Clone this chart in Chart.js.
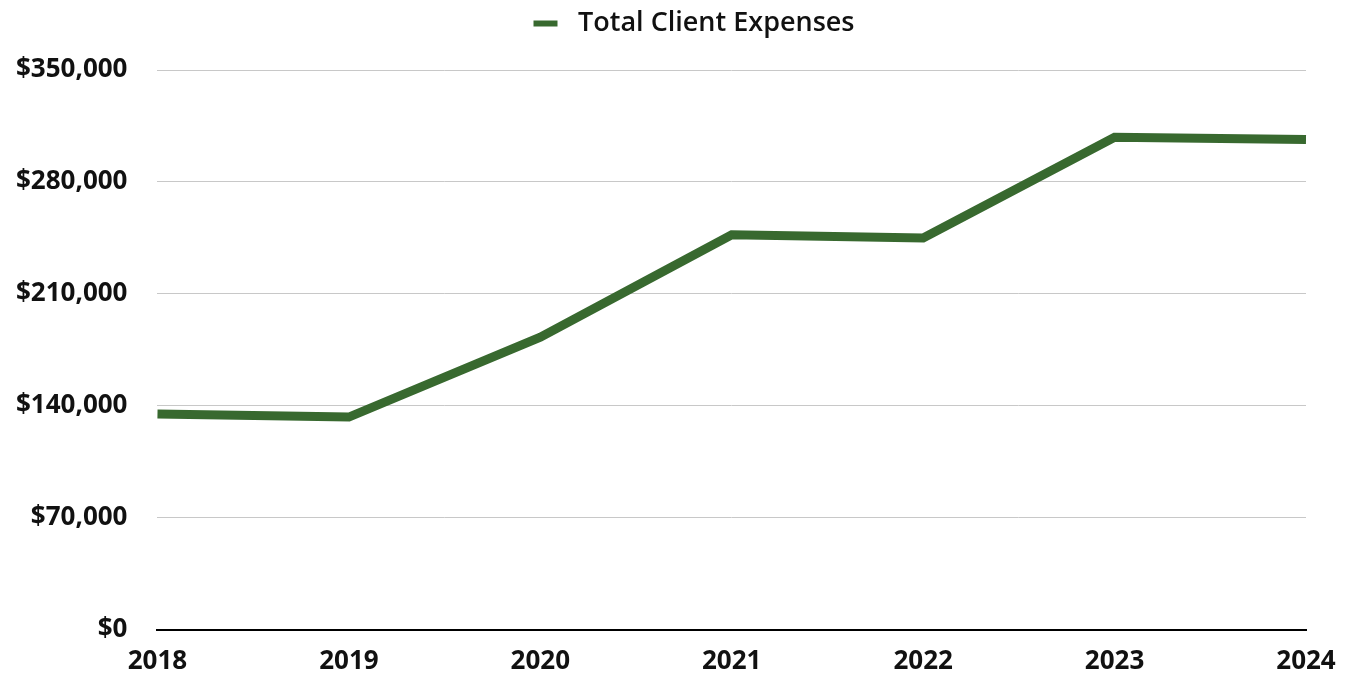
<!DOCTYPE html>
<html>
<head>
<meta charset="utf-8">
<script src="https://cdn.jsdelivr.net/npm/chart.js@4"></script>
<style>
  html, body { margin: 0; padding: 0; background: #fff; }
  #wrap { width: 1351px; height: 677px; }
</style>
</head>
<body>
<div id="wrap"><canvas id="linechart"></canvas></div>
<script>
// data
const years = ['2018', '2019', '2020', '2021', '2022', '2023', '2024'];
const expenses = [135000, 133000, 183000, 247000, 245000, 308000, 306500];
const seriesName = 'Total Client Expenses';

const green = '#38692f';

// more room under the legend, and nudge it right a little
const legendGap = {
  id: 'legendGap',
  beforeInit(chart) {
    const fit = chart.legend.fit;
    chart.legend.fit = function () {
      fit.bind(chart.legend)();
      this.height += 23;
    };
  },
  afterLayout(chart) {
    chart.legend.left += 48;
    chart.legend.right += 48;
  }
};

const ctx = document.getElementById('linechart').getContext('2d');
new Chart(ctx, {
  type: 'line',
  data: {
    labels: years,
    datasets: [{
      label: seriesName,
      data: expenses,
      borderColor: green,
      backgroundColor: green,
      borderWidth: 9,
      pointRadius: 0,
      tension: 0
    }]
  },
  options: {
    responsive: true,
    maintainAspectRatio: false,
    animation: false,
    layout: { padding: { left: -14, right: 45, top: 0, bottom: -8 } },
    scales: {
      x: {
        grid: { display: false },
        border: { display: true, color: '#000', width: 2 },
        ticks: {
          color: '#111',
          padding: 8,
          maxRotation: 0,
          font: { family: 'Open Sans', size: 26, weight: 'bold' }
        }
      },
      y: {
        min: 0,
        max: 350000,
        grid: { color: '#c8c8c8', lineWidth: 1, drawTicks: false },
        border: { display: false },
        ticks: {
          stepSize: 70000,
          color: '#111',
          padding: 30,
          font: { family: 'Open Sans', size: 26, weight: 'bold' },
          callback: (v) => '$' + v.toLocaleString('en-US')
        }
      }
    },
    plugins: {
      legend: {
        position: 'top',
        labels: {
          color: '#111',
          boxWidth: 24,
          boxHeight: 6,
          padding: 10,
          font: { family: 'Open Sans', size: 27, weight: 600 },
          generateLabels: (chart) => {
            const items = Chart.defaults.plugins.legend.labels.generateLabels(chart);
            items.forEach((it) => {
              it.lineWidth = 0;
              it.text = ' ' + it.text;
            });
            return items;
          }
        }
      },
      tooltip: { enabled: false }
    }
  },
  plugins: [legendGap]
});
</script>
</body>
</html>
